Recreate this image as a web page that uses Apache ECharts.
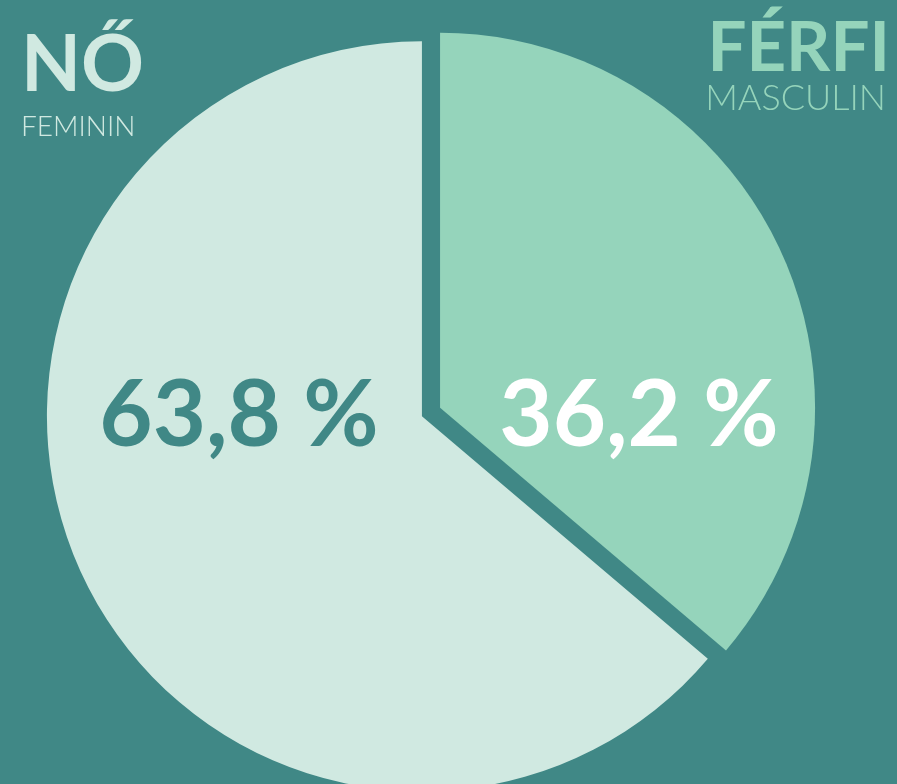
<!DOCTYPE html>
<html>
<head>
<meta charset="utf-8">
<script src="https://cdn.jsdelivr.net/npm/echarts@6/dist/echarts.min.js"></script>
<style>
  html, body { margin: 0; padding: 0; background: #408886; }
  #pie { width: 897px; height: 784px; }
</style>
</head>
<body>
<div id="pie"></div>
<script>
// adatok (nem szerint)
const categories = ['FÉRFI', 'NŐ']
const subtitles = ['MASCULIN', 'FEMININ']
const shares = [36.2, 63.8]
const shareLabels = ['36,2 %', '63,8 %']

const bg = '#408886'
const colors = ['#95d4bb', '#d0e9e1']

let chart = echarts.init(document.getElementById('pie'))

const option = {
  backgroundColor: bg,
  animation: false,
  series: [
    {
      type: 'pie',
      center: [431, 412],
      radius: 375,
      startAngle: 90,
      clockwise: true,
      selectedMode: 'multiple',
      selectedOffset: 10,
      label: { show: false },
      labelLine: { show: false },
      emphasis: { disabled: true },
      data: categories.map((name, i) => ({
        name: name,
        value: shares[i],
        selected: true,
        itemStyle: { color: colors[i] }
      }))
    }
  ],
  graphic: [
    // bal felső felirat
    {
      type: 'text', left: 21, top: 27, z: 100,
      style: { text: categories[1], font: 'bold 78px Lato', fill: colors[1] }
    },
    {
      type: 'text', left: 21, top: 113, z: 100,
      style: { text: subtitles[1], font: '300 28px Lato', fill: colors[1] }
    },
    // jobb felső felirat
    {
      type: 'text', right: 7, top: 14, z: 100,
      style: { text: categories[0], font: 'bold 69px Lato', fill: colors[0] }
    },
    {
      type: 'text', right: 11, top: 80, z: 100,
      style: { text: subtitles[0], font: '300 36px Lato', fill: colors[0] }
    },
    // százalékok
    {
      type: 'text', x: 239, y: 416, z: 100,
      style: { text: shareLabels[1], font: 'bold 92px Lato', fill: bg, align: 'center', verticalAlign: 'middle' }
    },
    {
      type: 'text', x: 639, y: 416, z: 100,
      style: { text: shareLabels[0], font: 'bold 92px Lato', fill: '#ffffff', align: 'center', verticalAlign: 'middle' }
    }
  ]
}

chart.setOption(option)
</script>
</body>
</html>
